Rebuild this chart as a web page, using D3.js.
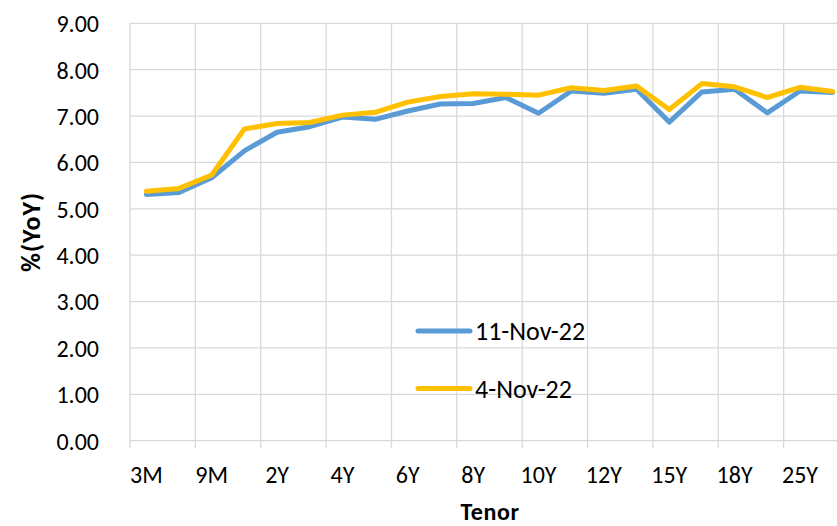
<!DOCTYPE html>
<html>
<head>
<meta charset="utf-8">
<script src="https://cdn.jsdelivr.net/npm/d3@7"></script>
<style>
  html, body { margin: 0; padding: 0; background: #fff; }
  svg { display: block; font-family: Carlito, Calibri, Lato, sans-serif; }
</style>
</head>
<body>
<div id="chart"></div>
<script>
// tenors on x axis
var tenors = ["3M", "6M", "9M", "1Y", "2Y", "3Y", "4Y", "5Y", "6Y", "7Y", "8Y", "9Y",
              "10Y", "11Y", "12Y", "13Y", "15Y", "16Y", "18Y", "20Y", "25Y", "30Y"];
// yields, %(YoY)
var nov11 = [5.31, 5.35, 5.67, 6.25, 6.65, 6.77, 6.98, 6.93, 7.11, 7.26, 7.27, 7.40,
             7.06, 7.54, 7.49, 7.58, 6.87, 7.52, 7.58, 7.07, 7.54, 7.51];
var nov4 = [5.38, 5.44, 5.73, 6.72, 6.84, 6.86, 7.02, 7.08, 7.30, 7.42, 7.48, 7.47,
            7.45, 7.61, 7.55, 7.65, 7.14, 7.70, 7.63, 7.40, 7.62, 7.53];
var seriesNames = ["11-Nov-22", "4-Nov-22"];
var yTicks = [0, 1, 2, 3, 4, 5, 6, 7, 8, 9];

var width = 837;
var height = 526;
var plot = {left: 130, top: 23.3, right: 849, bottom: 440.7};

var svg = d3.select("#chart")
    .append("svg")
    .attr("width", width)
    .attr("height", height);

//比例尺
var xScale = d3.scaleBand()
    .domain(tenors)
    .range([plot.left, plot.right])
    .padding(0);
var yScale = d3.scaleLinear()
    .domain([0, 9])
    .range([plot.bottom, plot.top]);

var gridColor = "#d9d9d9";

// horizontal gridlines
svg.append("g")
    .selectAll("line")
    .data(yTicks)
    .enter().append("line")
    .attr("x1", plot.left)
    .attr("x2", plot.right)
    .attr("y1", function (d) { return yScale(d); })
    .attr("y2", function (d) { return yScale(d); })
    .attr("stroke", gridColor)
    .attr("stroke-width", 1.3);

// vertical gridlines every 2 categories, with tick marks under the axis
var vLines = tenors.filter(function (d, i) { return i % 2 === 0; })
    .map(function (d) { return xScale(d); });
vLines.push(plot.right);
svg.append("g")
    .selectAll("line")
    .data(vLines)
    .enter().append("line")
    .attr("x1", function (d) { return d; })
    .attr("x2", function (d) { return d; })
    .attr("y1", plot.top)
    .attr("y2", plot.bottom + 7.5)
    .attr("stroke", gridColor)
    .attr("stroke-width", 1.3);

// y axis labels
var gyAxis = svg.append("g")
    .attr("transform", "translate(" + (plot.left - 31) + ",0)")
    .call(d3.axisLeft(yScale).tickValues(yTicks).tickFormat(d3.format(".2f")).tickSize(0));
gyAxis.select(".domain").remove();
gyAxis.selectAll("text")
    .attr("x", 0)
    .attr("dy", "0.35em")
    .style("font-size", "24px")
    .style("font-family", "Carlito, Calibri, Lato, sans-serif")
    .attr("fill", "#000");

// x axis labels (every other tenor)
var gxAxis = svg.append("g")
    .attr("transform", "translate(0," + plot.bottom + ")")
    .call(d3.axisBottom(xScale)
        .tickValues(tenors.filter(function (d, i) { return i % 2 === 0; }))
        .tickSize(0));
gxAxis.select(".domain").remove();
gxAxis.selectAll("text")
    .attr("y", 42)
    .attr("dy", "0")
    .style("font-size", "24px")
    .style("font-family", "Carlito, Calibri, Lato, sans-serif")
    .attr("fill", "#000");

// axis titles
svg.append("text")
    .attr("x", 490)
    .attr("y", 520)
    .attr("text-anchor", "middle")
    .style("font-size", "24px")
    .style("letter-spacing", "0.6px")
    .style("font-weight", "bold")
    .text("Tenor");
svg.append("text")
    .attr("transform", "translate(40,232) rotate(-90)")
    .attr("text-anchor", "middle")
    .style("font-size", "26px")
    .style("letter-spacing", "1px")
    .style("font-weight", "bold")
    .text("%(YoY)");

// lines
var line = d3.line()
    .x(function (d, i) { return xScale(tenors[i]) + xScale.bandwidth() / 2; })
    .y(function (d) { return yScale(d); });

var colors = ["#5b9bd5", "#ffc000"];
[nov11, nov4].forEach(function (s, k) {
    svg.append("path")
        .datum(s)
        .attr("d", line)
        .attr("fill", "none")
        .attr("stroke", colors[k])
        .attr("stroke-width", 5)
        .attr("stroke-linejoin", "round")
        .attr("stroke-linecap", "round");
});

// legend
var legend = svg.append("g");
seriesNames.forEach(function (name, k) {
    var ly = 331 + k * 57.5;
    legend.append("line")
        .attr("x1", 418)
        .attr("x2", 470)
        .attr("y1", ly)
        .attr("y2", ly)
        .attr("stroke", colors[k])
        .attr("stroke-width", 5)
        .attr("stroke-linecap", "round");
    legend.append("text")
        .attr("x", 475)
        .attr("y", ly)
        .attr("dy", "0.35em")
        .style("font-size", "26px")
        .attr("fill", "#000")
        .text(name);
});
</script>
</body>
</html>
